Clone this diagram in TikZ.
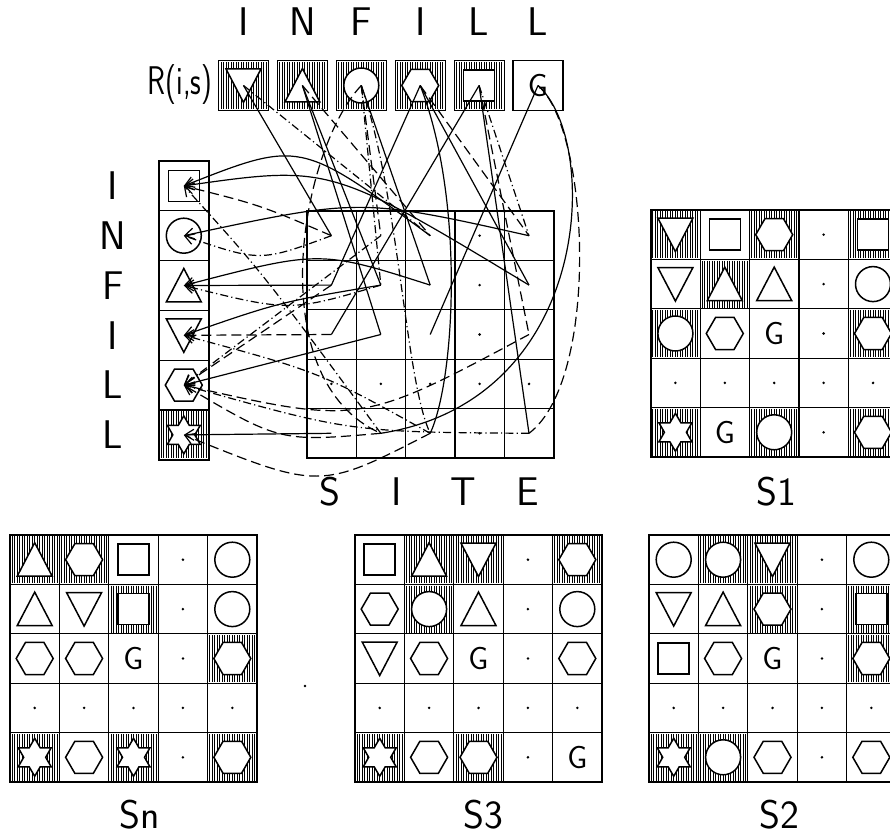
\documentclass[tikz,border=0pt]{standalone}
\usepackage{fontspec}
\usepackage{graphicx}
\renewcommand\familydefault{\sfdefault}
\usetikzlibrary{arrows.meta}

% hatching and cell symbols, drawn round the cell centre
\newcommand\hath{\foreach \k in {0,...,18}{\draw[hl] ({-22.5+\k*2.5},-23.5) -- ({-22.5+\k*2.5},23.5);}}
\newcommand\hatn{}
\newcommand\symnone[1]{}
\newcommand\symdot[1]{\fill (0,0) circle (1.4);}
\newcommand\symsqr[1]{\draw[shp] (-15.5,-15.5) rectangle (15.5,15.5);}
\newcommand\symcirc[1]{\draw[shp] (0,0) circle (17.5);}
\newcommand\symdtri[1]{\draw[shp] (-17.5,-16.5) -- (17.5,-16.5) -- (0,17) -- cycle;}
\newcommand\symutri[1]{\draw[shp] (-17.5,16.5) -- (17.5,16.5) -- (0,-17) -- cycle;}
\newcommand\symhexa[1]{\draw[shp] (0:18.5) -- (60:18.5) -- (120:18.5) -- (180:18.5)
  -- (240:18.5) -- (300:18.5) -- cycle;}
\newcommand\symstar[1]{\draw[shp] (90:19) -- (120:11) -- (150:19) -- (180:11) -- (210:19)
  -- (240:11) -- (270:19) -- (300:11) -- (330:19) -- (0:11) -- (30:19) -- (60:11) -- cycle;}
\newcommand\symgee[1]{\node[gl] (#1-g) {G};}

% one cell: name, centre x, centre y, hatch (h/n), symbol, size
\newcommand\cellbox[6]{%
  \begin{scope}[shift={({#2},{#3})}]
    \csname hat#4\endcsname
    \csname sym#5\endcsname{#1}
    \draw[grd] ({-#6/2},{-#6/2}) rectangle ({#6/2},{#6/2});
    \coordinate (#1) at (0,0);
  \end{scope}}

% a 5x5 site plan: name, left, top, rows
\newcommand\sgrid[4]{%
  \foreach \row [count=\i] in {#4}{
    \foreach \h/\s [count=\j] in \row{
      \cellbox{#1-\i-\j}{#2+(\j-0.5)*49.4}{#3+(\i-0.5)*49.4}{\h}{\s}{49.4}
    }
  }
  \draw[frame] (#2,#3) rectangle ({#2+5*49.4},{#3+5*49.4});}

\begin{document}
\begin{tikzpicture}[
  x=0.5pt, y=-0.5pt,
  grd/.style  ={line width=0.6pt},
  frame/.style={line width=1pt},
  shp/.style  ={draw, fill=white, line width=0.75pt},
  hl/.style   ={line width=0.45pt},
  lbl/.style  ={font=\fontsize{20}{24}\selectfont, inner sep=0pt},
  gl/.style   ={font=\fontsize{16}{19}\selectfont, inner sep=0pt},
  sol/.style  ={line width=0.6pt},
  dsh/.style  ={sol, dash pattern=on 5pt off 2.5pt},
  ddt/.style  ={sol, dash pattern=on 4pt off 1.6pt on 0.6pt off 1.6pt},
  arr/.style  ={-{Straight Barb[length=4.5pt, width=5.5pt]}},
]
\useasboundingbox (0,0) rectangle (890,834);
\fill[white] (0,0) rectangle (890,834);
\clip (0,0) rectangle (890,834);

% ================= R(i,s) row =================
\foreach \l [count=\k] in {I,N,F,I,L,L}
  \node[lbl] (top-\k) at ({243.5+(\k-1)*58.9},22) {\l};
\node[lbl] (rlab) at (180,85) {\scalebox{0.74}[1]{R(i,s)}};
\foreach \h/\s [count=\k] in {h/dtri,h/utri,h/circ,h/hexa,h/sqr,n/gee}
  {\cellbox{R\k}{243.5+(\k-1)*58.9}{85.5}{\h}{\s}{50}}

% ================= infill column =================
\foreach \l [count=\k] in {I,N,F,I,L,L}
  \node[lbl] (side-\k) at (113,{185.9+(\k-1)*49.8}) {\l};
\foreach \h/\s [count=\k] in {n/sqr,n/circ,n/utri,n/dtri,n/hexa,h/star}
  {\cellbox{inf-\k}{183.8}{185.9+(\k-1)*49.8}{\h}{\s}{49.8}}
\draw[frame] (158.9,161) rectangle (208.7,459.8);

% ================= site and plans =================
\sgrid{site}{306.7}{211}{
  {n/none,n/none,n/none,n/dot,n/none},
  {n/none,n/none,n/none,n/dot,n/none},
  {n/none,n/none,n/none,n/dot,n/none},
  {n/dot,n/dot,n/dot,n/dot,n/dot},
  {n/none,n/none,n/none,n/dot,n/none}}
\foreach \l/\x in {S/330,I/397,T/463,E/528}
  \node[lbl] (site-\l) at (\x,492) {\l};

\sgrid{sa}{650.7}{210}{
  {h/dtri,n/sqr,h/hexa,n/dot,h/sqr},
  {n/dtri,h/utri,n/utri,n/dot,n/circ},
  {h/circ,n/hexa,n/gee,n/dot,h/hexa},
  {n/dot,n/dot,n/dot,n/dot,n/dot},
  {h/star,n/gee,h/circ,n/dot,h/hexa}}
\node[lbl] (sa-lab) at (776,492) {S1};

\sgrid{sb}{649}{535}{
  {n/circ,h/circ,h/dtri,n/dot,n/circ},
  {n/dtri,n/utri,h/hexa,n/dot,h/sqr},
  {n/sqr,n/hexa,n/gee,n/dot,h/hexa},
  {n/dot,n/dot,n/dot,n/dot,n/dot},
  {h/star,h/circ,n/hexa,n/dot,n/hexa}}
\node[lbl] (sb-lab) at (779,815) {S2};

\sgrid{sc}{355}{535}{
  {n/sqr,h/utri,h/dtri,n/dot,h/hexa},
  {n/hexa,h/circ,n/utri,n/dot,n/circ},
  {n/dtri,n/hexa,n/gee,n/dot,n/hexa},
  {n/dot,n/dot,n/dot,n/dot,n/dot},
  {h/star,n/hexa,h/hexa,n/dot,n/gee}}
\node[lbl] (sc-lab) at (483,815) {S3};

\sgrid{sn}{10}{535}{
  {h/utri,h/hexa,n/sqr,n/dot,n/circ},
  {n/utri,n/dtri,h/sqr,n/dot,n/circ},
  {n/hexa,n/hexa,n/gee,n/dot,h/hexa},
  {n/dot,n/dot,n/dot,n/dot,n/dot},
  {h/star,n/hexa,h/star,n/dot,h/hexa}}
\node[lbl] (sn-lab) at (140,815) {Sn};
\fill (305,686) circle (1.4);

% ================= R(i,s) -> site =================
\draw[sol] (R1) -- (site-1-1);
\draw[ddt] (R1) -- (site-1-3);
\draw[dsh] (R2) -- (site-1-3);
\draw[sol] (R2) -- (site-2-2);
\draw[sol] (R2) -- (site-3-2);
\draw[dsh] (R3) -- (site-1-2);
\draw[ddt] (R3) -- (site-2-2);
\draw[sol] (R3) -- (site-2-3);
\draw[dsh] (R3) .. controls (300,150) and (260,380) .. (site-5-2);
\draw[ddt] (R3) .. controls (400,200) and (405,380) .. (site-5-3);
\draw[dsh] (R4) -- (site-1-5);
\draw[sol] (R4) -- (site-2-1);
\draw[sol] (R4) -- (site-2-5);
\draw[sol] (R4) .. controls (465,200) and (455,380) .. (site-5-3);
\draw[ddt] (R5) -- (site-1-5);
\draw[sol] (R5) -- (site-3-1);
\draw[dsh] (R5) -- (site-3-5);
\draw[sol] (R5) -- (site-5-5);
\draw[sol] (R6) -- (site-3-3);
\draw[sol] (R6) .. controls (600,140) and (595,400) .. (site-5-2);
\draw[dsh] (R6) .. controls (590,130) and (600,380) .. (site-5-5);

% ================= site -> infill =================
\draw[dsh,arr] (site-1-1) .. controls (260,205) .. (inf-1);
\draw[ddt,arr] (site-1-1) .. controls (260,262) .. (inf-2);
\draw[sol,arr] (site-1-3) .. controls (300,140) .. (inf-1);
\draw[sol,arr] (site-2-5) .. controls (330,165) .. (inf-1);
\draw[ddt,arr] (site-5-2) .. controls (262,272) .. (inf-1);
\draw[sol,arr] (site-1-5) .. controls (360,198) .. (inf-2);
\draw[sol,arr] (site-2-3) .. controls (320,250) .. (inf-3);
\draw[sol,arr] (site-2-1) -- (inf-3);
\draw[ddt,arr] (site-2-2) .. controls (290,312) .. (inf-3);
\draw[sol,arr] (site-2-2) .. controls (280,302) .. (inf-4);
\draw[dsh,arr] (site-3-1) -- (inf-4);
\draw[ddt,arr] (site-5-3) .. controls (320,372) .. (inf-4);
\draw[sol,arr] (site-3-2) -- (inf-5);
\draw[dsh,arr] (site-2-1) -- (inf-5);
\draw[ddt,arr] (site-1-2) -- (inf-5);
\draw[dsh,arr] (site-3-5) .. controls (360,425) .. (inf-5);
\draw[ddt,arr] (site-5-5) .. controls (350,432) .. (inf-5);
\draw[dsh,arr] (site-5-2) .. controls (280,442) .. (inf-5);
\draw[sol,arr] (site-5-1) -- (inf-6);
\draw[dsh,arr] (site-5-3) .. controls (320,490) .. (inf-6);

\end{tikzpicture}
\end{document}
